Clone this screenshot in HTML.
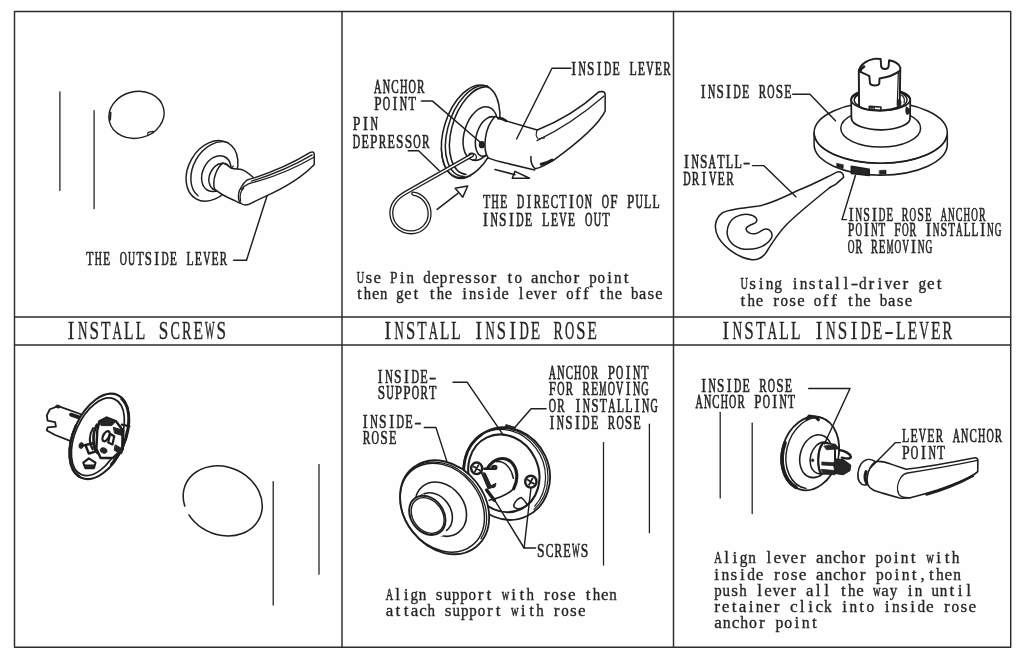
<!DOCTYPE html>
<html><head><meta charset="utf-8"><title>Lever installation</title>
<style>html,body{margin:0;padding:0;background:#fff}body{width:1025px;height:660px;overflow:hidden;font-family:"Liberation Serif",serif}svg{display:block}</style></head><body>
<svg width="1025" height="660" viewBox="0 0 1025 660">
<rect width="1025" height="660" fill="#fefefe"/>
<g fill="none" stroke="#1e1e1e" stroke-linecap="round" stroke-linejoin="round">
<g stroke-width="1.45" stroke="#2b2b2b">
<path d="M14.5 11.5H1010.7V647.2H14.5Z"/>
<path d="M342 11.5V647.2M673.5 11.5V647.2M14.5 317H1010.7M14.5 345H1010.7"/>
</g>
<g transform="translate(40 70) scale(0.24242)" stroke-width="5.79">
<ellipse cx="398" cy="185" rx="115" ry="96" transform="rotate(-14 398 185)"/>
<path d="M444 266L446 257L466 253L469 259" stroke-width="5.03"/>
<path d="M291 176L289 205" stroke-width="8.05"/>
</g>
<g transform="translate(180 130) scale(0.15152)" stroke-width="9.66">
<ellipse cx="211" cy="270" rx="155.6" ry="212.3" transform="rotate(29.6 211 270)" fill="#fefefe"/>
<path d="M118.9 434.3A147 203 29.6 0 1 315.5 83.1"/>
<ellipse cx="240" cy="288" rx="90" ry="124" transform="rotate(26 240 288)"/>
<path d="M259.3 395.3A68 93 26 1 1 329.9 250.5"/>
<path d="M283 219C300 225 320 238 338 252C360 262 390 254 410 262C440 275 460 292 482 312L420 400L396 480C350 462 300 440 262 414C240 400 226 392 228 380C215 330 240 250 283 219Z" stroke-width="0.08" fill="#fefefe" stroke="none"/>
<path d="M283 219C300 225 320 238 338 252C360 262 390 254 410 262C440 275 460 292 482 312"/>
<path d="M228 390C250 408 300 440 352 462C370 470 385 478 398 484"/>
<path d="M283 219C240 250 212 330 228 390"/>
<path d="M338 252C345 248 350 244 352 238" stroke-width="8.05"/>
<path d="M442 330C600 285 750 215 860 148C876 140 886 148 886 162L886 228C800 320 660 395 560 440L450 492C420 500 396 488 388 462C382 425 392 392 408 372C418 352 430 340 442 330Z" fill="#fefefe"/>
<path d="M470 338C620 292 762 228 872 164" stroke-width="8.05"/>
<path d="M404 392C440 352 470 348 520 336C660 296 780 240 884 180" stroke-width="8.05"/>
<path d="M400 470C392 430 404 398 420 384" stroke-width="8.05"/>
</g>
<g transform="translate(435 75) scale(0.18182)" stroke-width="8.39">
<ellipse cx="196" cy="310" rx="146.8" ry="263.4" transform="rotate(17.6 196 310)" fill="#fefefe"/>
<path d="M160.8 557.7A143 258 17.6 1 1 287.2 60.7"/>
<path d="M170.7 547.4A139 250 17.6 0 1 293.3 64.6"/>
<path d="M197 553.6A146.8 263.4 17.6 0 1 35 401.1" stroke-width="6.71"/>
<ellipse cx="250" cy="322" rx="88" ry="152" transform="rotate(17.6 250 322)"/>
<path d="M278.4 444.7A62 112 17.6 1 1 342 244.1"/>
<path d="M330 228C352 240 380 250 400 255L562 302L600 420L548 522L400 487C360 478 320 468 292 456C262 440 262 300 330 228Z" fill="#fefefe" stroke="none"/>
<path d="M330 228C352 240 380 250 400 255L562 302"/>
<path d="M292 456C320 468 360 478 400 487L548 522"/>
<path d="M330 228C270 290 262 410 292 456"/>
<path d="M348 238C362 236 380 244 390 252" stroke-width="14.76"/>
<ellipse cx="258" cy="383" rx="13" ry="16" fill="#262626"/>
<path d="M186 436C196 426 214 428 224 440C234 454 226 468 206 468" stroke-width="6.71"/>
<path d="M330 520L440 548"/>
<path d="M440 530L520 568L425 568Z"/>
</g>
<g transform="translate(345 60) scale(0.27270)" stroke-width="5.37">
<path d="M466 349L222 487C190 505 168 530 170 565C172 605 205 632 242 632C282 632 312 600 310 560C308 525 285 495 250 490" stroke-width="15.21"/>
<path d="M466 349L222 487C190 505 168 530 170 565C172 605 205 632 242 632C282 632 312 600 310 560C308 525 285 495 250 490" stroke-width="5.59" stroke="#fefefe"/>
<path d="M338 548L414 489"/>
<path d="M404 470L450 462L432 503Z"/>
</g>
<g transform="translate(520 80) scale(0.15152)" stroke-width="10.06">
<path d="M114 330C250 275 400 188 520 78L545 76Q562 80 562 97L562 205C520 290 400 400 220 530C170 560 130 580 100 586C80 570 70 540 72 505L114 330Z" fill="#fefefe" stroke="none"/>
<path d="M114 330C250 275 400 188 520 78L545 76Q562 80 562 97L562 205C520 290 400 400 220 530C170 560 130 580 100 586C80 570 70 540 72 505"/>
<path d="M112 400C250 335 400 240 555 106" stroke-width="8.05"/>
<path d="M114 330C104 350 106 372 118 386M126 390C138 384 150 382 162 382" stroke-width="7.25"/>
<path d="M140 556C165 552 190 542 212 528" stroke-width="19.32"/>
</g>
<g transform="translate(0 0) scale(1.00000)" stroke-width="1.52">
<path d="M814.1 132.6V144.6A66.6 30.6 0 0 0 947.3 144.6V132.6Z" fill="#fefefe"/>
<ellipse cx="880.7" cy="132.6" rx="66.6" ry="30.6" fill="#fefefe"/>
<path d="M814.6 136.5A66.6 30.6 0 0 0 946.8 136.5" stroke-width="1.22"/>
<ellipse cx="880.7" cy="128.2" rx="39.9" ry="18.9"/>
<path d="M851.3 166.3L869.2 169.3L869.2 175.4L851.3 173.4Z" fill="#262626"/>
<path d="M837 163.4L843.2 164.8V168.6L837 167Z" stroke-width="0.73" fill="#262626"/>
<path d="M879.6 170.6L886 170.2V174L879.6 174.4Z" stroke-width="0.73" fill="#262626"/>
</g>
<g transform="translate(840 45) scale(0.13637)" stroke-width="11.18">
<path d="M82 400L84 540A215 86 0 0 0 514 532L515 400A217 80 0 0 0 82 400Z" stroke-width="12.97" fill="#fefefe"/>
<ellipse cx="298" cy="400" rx="217" ry="80" stroke-width="12.97"/>
<ellipse cx="298" cy="402" rx="194" ry="78"/>
<path d="M486 455C500 458 512 470 514 486C512 502 500 512 488 508C480 492 480 470 486 455Z" stroke-width="5.37" fill="#262626"/>
<path d="M452 368C470 380 476 400 470 424" stroke-width="8.95"/>
<path d="M108 392C112 380 122 372 134 368" stroke-width="8.95"/>
<path d="M138 190L140 452C200 490 380 490 438 448L442 165C436 140 400 118 360 112L356 160C350 182 306 180 302 158L298 102L260 100C190 110 145 150 138 190Z" stroke-width="14.31" fill="#fefefe"/>
<path d="M140 192C160 205 195 215 215 228L220 282C228 302 282 302 288 282L290 245C330 240 400 220 441 188" stroke-width="14.31"/>
<path d="M424 402C436 398 446 404 448 420C446 446 438 462 424 468Z" stroke-width="5.37" fill="#262626"/>
<path d="M428 200L420 440" stroke-width="8.95"/>
<path d="M148 190C152 176 162 166 176 158" stroke-width="19.68"/>
<path d="M215 450L300 455L300 480L215 475Z" stroke-width="11.63"/>
<path d="M228 458L252 460L252 470L228 468Z" stroke-width="7.16"/>
</g>
<g transform="translate(680 140) scale(0.19704)" stroke-width="7.74">
<path d="M800 162C815 158 832 170 830 190L790 225L762 240C700 290 600 370 540 430C500 470 470 520 450 550C430 590 400 610 365 608C300 600 230 550 195 495C170 450 175 400 215 370C250 350 330 345 400 335C450 325 540 285 600 255C680 225 750 185 800 162Z" fill="#fefefe"/>
<path d="M385 395C370 378 330 370 295 385C255 400 235 440 240 480C248 525 290 555 345 555C400 553 445 530 465 495C472 475 460 455 440 452C420 450 405 470 385 475C360 480 338 468 335 452C335 438 360 430 380 422C392 415 392 405 385 395Z"/>
</g>
<g transform="translate(40 385) scale(0.15152)" stroke-width="10.47">
<path d="M120 140L285 198L215 376L100 330L45 300L50 280L105 275L100 245L50 235L45 200L65 160Z" stroke-width="12.08" fill="#fefefe"/>
<path d="M205 196L272 218" stroke-width="25.77"/>
<ellipse cx="118" cy="142" rx="15" ry="10" transform="rotate(15 118 142)" stroke-width="4.03" fill="#262626"/>
<ellipse cx="392" cy="339" rx="171" ry="298" transform="rotate(23.75 392 339)" stroke-width="13.69" fill="#fefefe"/>
<ellipse cx="382" cy="342" rx="149" ry="272" transform="rotate(23.75 382 342)" stroke-width="11.27"/>
<path d="M538.6 91.5A166 292 23.8 0 1 470.9 523.5" stroke-width="17.71"/>
<path d="M258.8 604.7A171 298 23.8 0 1 235.5 270.1" stroke-width="16.1"/>
<path d="M350 285C322 330 322 385 348 425" stroke-width="13.69"/>
<path d="M376 262C345 318 345 395 378 448" stroke-width="17.71"/>
<path d="M392 240L440 215L500 238L548 300L545 420L480 482L400 482L372 420L378 300Z" stroke-width="16.1" fill="#fefefe"/>
<path d="M388 242L440 213L502 238L474 268L406 268Z" stroke-width="6.44" fill="#262626"/>
<path d="M486 280L547 298L542 334L494 318Z" stroke-width="6.44" fill="#262626"/>
<path d="M498 396L550 425L538 454L492 432Z" stroke-width="6.44" fill="#262626"/>
<path d="M548 300L545 420" stroke-width="19.32"/>
<ellipse cx="436" cy="338" rx="19" ry="36" transform="rotate(28 436 338)" stroke-width="15.3"/>
<path d="M462 322L490 338L478 392L450 380Z" stroke-width="14.49"/>
<ellipse cx="420" cy="432" rx="23" ry="18" transform="rotate(20 420 432)" stroke-width="4.03" fill="#262626"/>
<ellipse cx="272" cy="400" rx="15" ry="20" transform="rotate(10 272 400)" stroke-width="4.03" fill="#262626"/>
<path d="M300 396L352 384L366 440L322 452Z" stroke-width="16.1"/>
<path d="M300 396L275 402" stroke-width="14.49"/>
<path d="M286 512L322 484L366 512L356 548L300 548Z" stroke-width="14.49"/>
<path d="M292 528L360 528L356 548L300 548Z" stroke-width="6.44" fill="#262626"/>
<path d="M540 262L590 272" stroke-width="14.49"/>
</g>
<g transform="translate(160 440) scale(0.27270)" stroke-width="5.59">
<path d="M90.8 242.3A149 124 24.4 1 1 106.1 274.6"/>
</g>
<g transform="translate(455 420) scale(0.16667)" stroke-width="9.52">
<ellipse cx="310" cy="322" rx="255" ry="282" transform="rotate(-25 310 322)" stroke-width="10.98" fill="#fefefe"/>
<path d="M148.9 93.9A249 276 -25 0 1 474.1 536.4" stroke-width="7.32"/>
<path d="M163.2 87.1A242 270 -25 0 1 478.2 517" stroke-width="7.32"/>
<ellipse cx="293" cy="320" rx="208" ry="238" transform="rotate(-25 293 320)" stroke-width="12.44"/>
<path d="M81.6 428.5A252 279 -25 0 1 161.5 86.4" stroke-width="16.1"/>
<path d="M300 40L306 27L362 44L356 60Z" stroke-width="4.39" fill="#262626"/>
<path d="M195 290C225 235 290 212 335 250C372 285 385 350 352 412" stroke-width="19.03"/>
<path d="M250 250C300 245 340 290 350 350" stroke-width="8.78"/>
<path d="M205 482C260 470 320 445 352 412" stroke-width="9.52"/>
<path d="M176 293L244 293C256 280 240 270 224 280" stroke-width="14.64"/>
<path d="M158 318L198 412L240 402L246 380L216 394L182 320Z" stroke-width="5.86" fill="#262626"/>
<path d="M190 420L236 482" stroke-width="20.5"/>
<path d="M352 512C360 490 380 470 398 465C415 480 428 495 432 510C420 525 400 532 375 532C362 530 352 522 352 512Z"/>
<ellipse cx="130" cy="290" rx="33" ry="34.65" stroke-width="14.64" fill="#fefefe"/>
<path d="M111.8 278.4L148.2 301.6M139.9 271.9L120.1 308.1" stroke-width="10.98"/>
<ellipse cx="455" cy="370" rx="34" ry="35.7" stroke-width="14.64" fill="#fefefe"/>
<path d="M436.3 358.1L473.7 381.9M465.2 351.3L444.8 388.7" stroke-width="10.98"/>
</g>
<g transform="translate(390 450) scale(0.16667)" stroke-width="9.52">
<ellipse cx="327.5" cy="343.5" rx="242.4" ry="303.4" transform="rotate(-38.3 327.5 343.5)" stroke-width="10.98" fill="#fefefe"/>
<path d="M96.1 158.3A235 296 -38.3 0 1 545.9 531.7" stroke-width="7.32"/>
<ellipse cx="314" cy="346" rx="228" ry="288" transform="rotate(-38.3 314 346)" stroke-width="8.78"/>
<ellipse cx="305" cy="355" rx="140" ry="175" transform="rotate(-38 305 355)"/>
<ellipse cx="262" cy="378" rx="102" ry="130" transform="rotate(-36 262 378)" fill="#fefefe"/>
<path d="M150 300L200 262L345 500L285 528Z" fill="#fefefe" stroke="none"/>
<ellipse cx="224" cy="392" rx="98" ry="127" transform="rotate(-36 224 392)" stroke-width="11.71" fill="#fefefe"/>
<ellipse cx="226" cy="393" rx="88" ry="116" transform="rotate(-36 226 393)" stroke-width="8.05"/>
</g>
<g transform="translate(775 405) scale(0.13637)" stroke-width="11.63">
<ellipse cx="257.5" cy="355" rx="206" ry="275" transform="rotate(16 257.5 355)" stroke-width="13.42" fill="#fefefe"/>
<path d="M227.5 611.5A198 266 16 1 1 350.6 94.6" stroke-width="10.74"/>
<path d="M154.1 603.7A204 272 16 0 1 73.2 277.2" stroke-width="26.84"/>
<path d="M236 100L250 82L300 90L318 108" stroke-width="23.26"/>
<ellipse cx="300" cy="375" rx="115" ry="160" transform="rotate(16 300 375)"/>
<path d="M357.7 497.9A85 118 16 1 1 414 301.5" stroke-width="11.63"/>
<path d="M352 278L440 290L470 325L455 500L340 505C310 470 305 330 352 278Z" stroke-width="10.74" fill="#fefefe"/>
<path d="M352 278C305 330 310 470 340 505" stroke-width="16.1"/>
<path d="M360 300L440 292L472 322L380 328Z" stroke-width="5.37" fill="#262626"/>
<path d="M345 418L440 424L440 446L345 440Z" stroke-width="5.37" fill="#262626"/>
<path d="M340 472L440 480L440 512L352 506Z" stroke-width="5.37" fill="#262626"/>
<path d="M440 395L500 400L556 440L550 482L500 512L440 502L432 450Z" stroke-width="7.16" fill="#262626"/>
<path d="M470 330C510 335 550 355 556 380C556 396 530 396 490 386" stroke-width="17.89"/>
<path d="M440 330L440 395" stroke-width="14.31"/>
<ellipse cx="276" cy="405" rx="9" ry="11" stroke-width="3.58" fill="#262626"/>
</g>
<g transform="translate(850 445) scale(0.13661)" stroke-width="11.61">
<path d="M182 120C150 98 110 100 80 140C55 180 50 240 70 270C85 292 110 296 128 290L182 120Z" fill="#fefefe"/>
<path d="M118 195C108 220 108 250 120 276" stroke-width="23.22"/>
<path d="M186 122C230 114 260 126 300 140L410 178C560 160 760 124 905 95C925 90 936 100 936 112L935 195C900 228 780 282 640 330C560 355 500 372 440 386C410 390 385 390 362 388L250 356C220 348 190 340 170 330C130 310 118 270 128 225C136 180 156 145 186 122Z" fill="#fefefe"/>
<path d="M440 386C400 388 372 384 358 362C340 330 346 280 372 238C388 215 402 208 422 205C600 176 800 140 934 112" stroke-width="9.82"/>
<path d="M560 362C660 335 800 280 900 226" stroke-width="17.86"/>
</g>
<path d="M59.9 91.8L59.9 190.5" stroke-width="1.25"/>
<path d="M94.1 110.7L94.1 208.7" stroke-width="1.25"/>
<path d="M233.7 260.2L246.5 260.2L267 196" stroke-width="1.45"/>
<path d="M571 68.3L552 68.3L516.6 139" stroke-width="1.45"/>
<path d="M421.4 100.9L432.3 100.9L481.4 143.2" stroke-width="1.45"/>
<path d="M408.3 150.8L418.6 150.8L439.1 170.4" stroke-width="1.45"/>
<path d="M792.7 94.2L809.9 94.2L835.5 120.7" stroke-width="1.45"/>
<path d="M752.5 165.6L763.7 165.6L795.9 196.7" stroke-width="1.45"/>
<path d="M855.4 175.5L842 219.6L846.4 219.6" stroke-width="1.45"/>
<path d="M273.2 481.5L273.2 605" stroke-width="1.25"/>
<path d="M319 464.5L319 574.2" stroke-width="1.25"/>
<path d="M603.5 442.5L603.5 565" stroke-width="1.25"/>
<path d="M649.4 424.2L649.4 532.7" stroke-width="1.25"/>
<path d="M453 382.2L467.1 382.2L503 434.6" stroke-width="1.45"/>
<path d="M424.3 427.4L435.9 427.4L446.8 461.1" stroke-width="1.45"/>
<path d="M546.1 408.7L531.1 408.7L514.8 427.4" stroke-width="1.45"/>
<path d="M535.5 548L524.1 548L494.5 499.8" stroke-width="1.45"/>
<path d="M524.1 548L530.9 488.4" stroke-width="1.45"/>
<path d="M720.2 412.3L720.2 497.9" stroke-width="1.25"/>
<path d="M752.2 423.2L752.2 513.5" stroke-width="1.25"/>
<path d="M808.7 388.5L850 388.5L824.5 443.8" stroke-width="1.45"/>
<path d="M900.5 442.6L895.5 442.6L870.5 467.8" stroke-width="1.45"/>
</g>
<g opacity="0.985" fill="#222" stroke="#222" stroke-width="0.32" text-anchor="middle" font-family="'Liberation Serif', serif">
<g font-size="18.3"><text transform="matrix(0.64 0 0 1 89.93 264.5)" stroke-width="0.65">T</text><text transform="matrix(0.54 0 0 1 98.27 264.5)" stroke-width="0.75">H</text><text transform="matrix(0.64 0 0 1 106.61 264.5)" stroke-width="0.65">E</text><text transform="matrix(0.54 0 0 1 123.29 264.5)" stroke-width="0.75">O</text><text transform="matrix(0.54 0 0 1 131.63 264.5)" stroke-width="0.75">U</text><text transform="matrix(0.64 0 0 1 139.97 264.5)" stroke-width="0.65">T</text><text transform="matrix(0.7 0 0 1 148.31 264.5)" stroke-width="0.6">S</text><text transform="matrix(0.8 0 0 1 156.65 264.5)" stroke-width="0.52">I</text><text transform="matrix(0.54 0 0 1 164.99 264.5)" stroke-width="0.75">D</text><text transform="matrix(0.64 0 0 1 173.33 264.5)" stroke-width="0.65">E</text><text transform="matrix(0.64 0 0 1 190.01 264.5)" stroke-width="0.65">L</text><text transform="matrix(0.64 0 0 1 198.35 264.5)" stroke-width="0.65">E</text><text transform="matrix(0.54 0 0 1 206.69 264.5)" stroke-width="0.75">V</text><text transform="matrix(0.64 0 0 1 215.03 264.5)" stroke-width="0.65">E</text><text transform="matrix(0.59 0 0 1 223.37 264.5)" stroke-width="0.71">R</text></g>
<g font-size="18.3"><text transform="matrix(0.8 0 0 1 573.69 74.7)" stroke-width="0.52">I</text><text transform="matrix(0.55 0 0 1 582.17 74.7)" stroke-width="0.75">N</text><text transform="matrix(0.72 0 0 1 590.64 74.7)" stroke-width="0.59">S</text><text transform="matrix(0.8 0 0 1 599.12 74.7)" stroke-width="0.52">I</text><text transform="matrix(0.55 0 0 1 607.59 74.7)" stroke-width="0.75">D</text><text transform="matrix(0.65 0 0 1 616.07 74.7)" stroke-width="0.64">E</text><text transform="matrix(0.65 0 0 1 633.02 74.7)" stroke-width="0.64">L</text><text transform="matrix(0.65 0 0 1 641.49 74.7)" stroke-width="0.64">E</text><text transform="matrix(0.55 0 0 1 649.97 74.7)" stroke-width="0.75">V</text><text transform="matrix(0.65 0 0 1 658.45 74.7)" stroke-width="0.64">E</text><text transform="matrix(0.6 0 0 1 666.92 74.7)" stroke-width="0.7">R</text></g>
<g font-size="18.3"><text transform="matrix(0.56 0 0 1 377.82 92.5)" stroke-width="0.75">A</text><text transform="matrix(0.56 0 0 1 386.41 92.5)" stroke-width="0.75">N</text><text transform="matrix(0.61 0 0 1 395 92.5)" stroke-width="0.69">C</text><text transform="matrix(0.56 0 0 1 403.6 92.5)" stroke-width="0.75">H</text><text transform="matrix(0.56 0 0 1 412.19 92.5)" stroke-width="0.75">O</text><text transform="matrix(0.61 0 0 1 420.78 92.5)" stroke-width="0.69">R</text></g>
<g font-size="18.3"><text transform="matrix(0.72 0 0 1 377.82 110.1)" stroke-width="0.58">P</text><text transform="matrix(0.56 0 0 1 386.38 110.1)" stroke-width="0.75">O</text><text transform="matrix(0.8 0 0 1 394.95 110.1)" stroke-width="0.52">I</text><text transform="matrix(0.56 0 0 1 403.52 110.1)" stroke-width="0.75">N</text><text transform="matrix(0.66 0 0 1 412.08 110.1)" stroke-width="0.64">T</text></g>
<g font-size="18.3"><text transform="matrix(0.75 0 0 1 356.63 130)" stroke-width="0.56">P</text><text transform="matrix(0.8 0 0 1 365.45 130)" stroke-width="0.52">I</text><text transform="matrix(0.57 0 0 1 374.27 130)" stroke-width="0.73">N</text></g>
<g font-size="18.3"><text transform="matrix(0.56 0 0 1 356.54 147.7)" stroke-width="0.75">D</text><text transform="matrix(0.66 0 0 1 365.18 147.7)" stroke-width="0.63">E</text><text transform="matrix(0.73 0 0 1 373.82 147.7)" stroke-width="0.58">P</text><text transform="matrix(0.61 0 0 1 382.46 147.7)" stroke-width="0.69">R</text><text transform="matrix(0.66 0 0 1 391.1 147.7)" stroke-width="0.63">E</text><text transform="matrix(0.73 0 0 1 399.74 147.7)" stroke-width="0.58">S</text><text transform="matrix(0.73 0 0 1 408.38 147.7)" stroke-width="0.58">S</text><text transform="matrix(0.56 0 0 1 417.02 147.7)" stroke-width="0.75">O</text><text transform="matrix(0.61 0 0 1 425.66 147.7)" stroke-width="0.69">R</text></g>
<g font-size="18.3"><text transform="matrix(0.65 0 0 1 486.58 208.4)" stroke-width="0.64">T</text><text transform="matrix(0.55 0 0 1 495.06 208.4)" stroke-width="0.75">H</text><text transform="matrix(0.65 0 0 1 503.55 208.4)" stroke-width="0.64">E</text><text transform="matrix(0.55 0 0 1 520.51 208.4)" stroke-width="0.75">D</text><text transform="matrix(0.8 0 0 1 528.99 208.4)" stroke-width="0.52">I</text><text transform="matrix(0.6 0 0 1 537.47 208.4)" stroke-width="0.7">R</text><text transform="matrix(0.65 0 0 1 545.95 208.4)" stroke-width="0.64">E</text><text transform="matrix(0.6 0 0 1 554.44 208.4)" stroke-width="0.7">C</text><text transform="matrix(0.65 0 0 1 562.92 208.4)" stroke-width="0.64">T</text><text transform="matrix(0.8 0 0 1 571.4 208.4)" stroke-width="0.52">I</text><text transform="matrix(0.55 0 0 1 579.88 208.4)" stroke-width="0.75">O</text><text transform="matrix(0.55 0 0 1 588.36 208.4)" stroke-width="0.75">N</text><text transform="matrix(0.55 0 0 1 605.33 208.4)" stroke-width="0.75">O</text><text transform="matrix(0.72 0 0 1 613.81 208.4)" stroke-width="0.59">F</text><text transform="matrix(0.72 0 0 1 630.77 208.4)" stroke-width="0.59">P</text><text transform="matrix(0.55 0 0 1 639.25 208.4)" stroke-width="0.75">U</text><text transform="matrix(0.65 0 0 1 647.74 208.4)" stroke-width="0.64">L</text><text transform="matrix(0.65 0 0 1 656.22 208.4)" stroke-width="0.64">L</text></g>
<g font-size="18.3"><text transform="matrix(0.8 0 0 1 485.49 226.2)" stroke-width="0.52">I</text><text transform="matrix(0.56 0 0 1 494.1 226.2)" stroke-width="0.75">N</text><text transform="matrix(0.73 0 0 1 502.7 226.2)" stroke-width="0.58">S</text><text transform="matrix(0.8 0 0 1 511.31 226.2)" stroke-width="0.52">I</text><text transform="matrix(0.56 0 0 1 519.92 226.2)" stroke-width="0.75">D</text><text transform="matrix(0.66 0 0 1 528.52 226.2)" stroke-width="0.63">E</text><text transform="matrix(0.66 0 0 1 545.73 226.2)" stroke-width="0.63">L</text><text transform="matrix(0.66 0 0 1 554.34 226.2)" stroke-width="0.63">E</text><text transform="matrix(0.56 0 0 1 562.94 226.2)" stroke-width="0.75">V</text><text transform="matrix(0.66 0 0 1 571.55 226.2)" stroke-width="0.63">E</text><text transform="matrix(0.56 0 0 1 588.76 226.2)" stroke-width="0.75">O</text><text transform="matrix(0.56 0 0 1 597.36 226.2)" stroke-width="0.75">U</text><text transform="matrix(0.66 0 0 1 605.97 226.2)" stroke-width="0.63">T</text></g>
<g font-size="17.2"><text transform="matrix(0.6 0 0 1 360.56 283.2)" stroke-width="0.53">U</text><text x="368.86" y="283.2">s</text><text transform="matrix(0.98 0 0 1 377.16 283.2)" stroke-width="0.33">e</text><text transform="matrix(0.78 0 0 1 393.76 283.2)" stroke-width="0.41">P</text><text x="402.06" y="283.2">i</text><text transform="matrix(0.87 0 0 1 410.36 283.2)" stroke-width="0.37">n</text><text transform="matrix(0.87 0 0 1 426.96 283.2)" stroke-width="0.37">d</text><text transform="matrix(0.98 0 0 1 435.26 283.2)" stroke-width="0.33">e</text><text transform="matrix(0.87 0 0 1 443.56 283.2)" stroke-width="0.37">p</text><text x="451.86" y="283.2">r</text><text transform="matrix(0.98 0 0 1 460.16 283.2)" stroke-width="0.33">e</text><text x="468.46" y="283.2">s</text><text x="476.76" y="283.2">s</text><text transform="matrix(0.87 0 0 1 485.06 283.2)" stroke-width="0.37">o</text><text x="493.36" y="283.2">r</text><text x="509.95" y="283.2">t</text><text transform="matrix(0.87 0 0 1 518.25 283.2)" stroke-width="0.37">o</text><text transform="matrix(0.98 0 0 1 534.85 283.2)" stroke-width="0.33">a</text><text transform="matrix(0.87 0 0 1 543.15 283.2)" stroke-width="0.37">n</text><text transform="matrix(0.98 0 0 1 551.45 283.2)" stroke-width="0.33">c</text><text transform="matrix(0.87 0 0 1 559.75 283.2)" stroke-width="0.37">h</text><text transform="matrix(0.87 0 0 1 568.05 283.2)" stroke-width="0.37">o</text><text x="576.35" y="283.2">r</text><text transform="matrix(0.87 0 0 1 592.95 283.2)" stroke-width="0.37">p</text><text transform="matrix(0.87 0 0 1 601.25 283.2)" stroke-width="0.37">o</text><text x="609.55" y="283.2">i</text><text transform="matrix(0.87 0 0 1 617.85 283.2)" stroke-width="0.37">n</text><text x="626.15" y="283.2">t</text></g>
<g font-size="17.2"><text x="359.35" y="299.3">t</text><text transform="matrix(0.85 0 0 1 367.44 299.3)" stroke-width="0.38">h</text><text transform="matrix(0.95 0 0 1 375.54 299.3)" stroke-width="0.34">e</text><text transform="matrix(0.85 0 0 1 383.63 299.3)" stroke-width="0.38">n</text><text transform="matrix(0.85 0 0 1 399.82 299.3)" stroke-width="0.38">g</text><text transform="matrix(0.95 0 0 1 407.91 299.3)" stroke-width="0.34">e</text><text x="416.01" y="299.3">t</text><text x="432.19" y="299.3">t</text><text transform="matrix(0.85 0 0 1 440.29 299.3)" stroke-width="0.38">h</text><text transform="matrix(0.95 0 0 1 448.38 299.3)" stroke-width="0.34">e</text><text x="464.57" y="299.3">i</text><text transform="matrix(0.85 0 0 1 472.66 299.3)" stroke-width="0.38">n</text><text x="480.76" y="299.3">s</text><text x="488.85" y="299.3">i</text><text transform="matrix(0.85 0 0 1 496.95 299.3)" stroke-width="0.38">d</text><text transform="matrix(0.95 0 0 1 505.04 299.3)" stroke-width="0.34">e</text><text x="521.23" y="299.3">l</text><text transform="matrix(0.95 0 0 1 529.32 299.3)" stroke-width="0.34">e</text><text transform="matrix(0.85 0 0 1 537.41 299.3)" stroke-width="0.38">v</text><text transform="matrix(0.95 0 0 1 545.51 299.3)" stroke-width="0.34">e</text><text x="553.6" y="299.3">r</text><text transform="matrix(0.85 0 0 1 569.79 299.3)" stroke-width="0.38">o</text><text x="577.88" y="299.3">f</text><text x="585.98" y="299.3">f</text><text x="602.17" y="299.3">t</text><text transform="matrix(0.85 0 0 1 610.26 299.3)" stroke-width="0.38">h</text><text transform="matrix(0.95 0 0 1 618.35 299.3)" stroke-width="0.34">e</text><text transform="matrix(0.85 0 0 1 634.54 299.3)" stroke-width="0.38">b</text><text transform="matrix(0.95 0 0 1 642.63 299.3)" stroke-width="0.34">a</text><text x="650.73" y="299.3">s</text><text transform="matrix(0.95 0 0 1 658.82 299.3)" stroke-width="0.34">e</text></g>
<g font-size="18.3"><text transform="matrix(0.8 0 0 1 703.09 98.4)" stroke-width="0.52">I</text><text transform="matrix(0.55 0 0 1 711.58 98.4)" stroke-width="0.75">N</text><text transform="matrix(0.72 0 0 1 720.06 98.4)" stroke-width="0.59">S</text><text transform="matrix(0.8 0 0 1 728.54 98.4)" stroke-width="0.52">I</text><text transform="matrix(0.55 0 0 1 737.02 98.4)" stroke-width="0.75">D</text><text transform="matrix(0.65 0 0 1 745.51 98.4)" stroke-width="0.64">E</text><text transform="matrix(0.6 0 0 1 762.47 98.4)" stroke-width="0.7">R</text><text transform="matrix(0.55 0 0 1 770.95 98.4)" stroke-width="0.75">O</text><text transform="matrix(0.72 0 0 1 779.43 98.4)" stroke-width="0.59">S</text><text transform="matrix(0.65 0 0 1 787.92 98.4)" stroke-width="0.64">E</text></g>
<g font-size="18.3"><text transform="matrix(0.8 0 0 1 686.49 167.9)" stroke-width="0.52">I</text><text transform="matrix(0.56 0 0 1 695.1 167.9)" stroke-width="0.75">N</text><text transform="matrix(0.73 0 0 1 703.71 167.9)" stroke-width="0.58">S</text><text transform="matrix(0.56 0 0 1 712.31 167.9)" stroke-width="0.75">A</text><text transform="matrix(0.66 0 0 1 720.92 167.9)" stroke-width="0.63">T</text><text transform="matrix(0.66 0 0 1 729.52 167.9)" stroke-width="0.63">L</text><text transform="matrix(0.66 0 0 1 738.13 167.9)" stroke-width="0.63">L</text><text transform="matrix(1.19 0 0 1 746.74 167.9)" stroke-width="0.35">-</text></g>
<g font-size="18.3"><text transform="matrix(0.56 0 0 1 686.83 184.8)" stroke-width="0.75">D</text><text transform="matrix(0.61 0 0 1 695.44 184.8)" stroke-width="0.69">R</text><text transform="matrix(0.8 0 0 1 704.05 184.8)" stroke-width="0.52">I</text><text transform="matrix(0.56 0 0 1 712.65 184.8)" stroke-width="0.75">V</text><text transform="matrix(0.66 0 0 1 721.26 184.8)" stroke-width="0.63">E</text><text transform="matrix(0.61 0 0 1 729.87 184.8)" stroke-width="0.69">R</text></g>
<g font-size="18.3"><text transform="matrix(0.8 0 0 1 851.19 220.5)" stroke-width="0.52">I</text><text transform="matrix(0.5 0 0 1 858.9 220.5)" stroke-width="0.75">N</text><text transform="matrix(0.65 0 0 1 866.61 220.5)" stroke-width="0.64">S</text><text transform="matrix(0.8 0 0 1 874.32 220.5)" stroke-width="0.52">I</text><text transform="matrix(0.5 0 0 1 882.02 220.5)" stroke-width="0.75">D</text><text transform="matrix(0.59 0 0 1 889.73 220.5)" stroke-width="0.71">E</text><text transform="matrix(0.54 0 0 1 905.14 220.5)" stroke-width="0.75">R</text><text transform="matrix(0.5 0 0 1 912.85 220.5)" stroke-width="0.75">O</text><text transform="matrix(0.65 0 0 1 920.56 220.5)" stroke-width="0.64">S</text><text transform="matrix(0.59 0 0 1 928.27 220.5)" stroke-width="0.71">E</text><text transform="matrix(0.5 0 0 1 943.68 220.5)" stroke-width="0.75">A</text><text transform="matrix(0.5 0 0 1 951.39 220.5)" stroke-width="0.75">N</text><text transform="matrix(0.54 0 0 1 959.1 220.5)" stroke-width="0.75">C</text><text transform="matrix(0.5 0 0 1 966.8 220.5)" stroke-width="0.75">H</text><text transform="matrix(0.5 0 0 1 974.51 220.5)" stroke-width="0.75">O</text><text transform="matrix(0.54 0 0 1 982.22 220.5)" stroke-width="0.75">R</text></g>
<g font-size="18.3"><text transform="matrix(0.65 0 0 1 851 236.1)" stroke-width="0.64">P</text><text transform="matrix(0.5 0 0 1 858.74 236.1)" stroke-width="0.75">O</text><text transform="matrix(0.8 0 0 1 866.48 236.1)" stroke-width="0.52">I</text><text transform="matrix(0.5 0 0 1 874.22 236.1)" stroke-width="0.75">N</text><text transform="matrix(0.6 0 0 1 881.97 236.1)" stroke-width="0.71">T</text><text transform="matrix(0.65 0 0 1 897.45 236.1)" stroke-width="0.64">F</text><text transform="matrix(0.5 0 0 1 905.19 236.1)" stroke-width="0.75">O</text><text transform="matrix(0.55 0 0 1 912.94 236.1)" stroke-width="0.75">R</text><text transform="matrix(0.8 0 0 1 928.42 236.1)" stroke-width="0.52">I</text><text transform="matrix(0.5 0 0 1 936.16 236.1)" stroke-width="0.75">N</text><text transform="matrix(0.65 0 0 1 943.91 236.1)" stroke-width="0.64">S</text><text transform="matrix(0.6 0 0 1 951.65 236.1)" stroke-width="0.71">T</text><text transform="matrix(0.5 0 0 1 959.39 236.1)" stroke-width="0.75">A</text><text transform="matrix(0.6 0 0 1 967.13 236.1)" stroke-width="0.71">L</text><text transform="matrix(0.6 0 0 1 974.88 236.1)" stroke-width="0.71">L</text><text transform="matrix(0.8 0 0 1 982.62 236.1)" stroke-width="0.52">I</text><text transform="matrix(0.5 0 0 1 990.36 236.1)" stroke-width="0.75">N</text><text transform="matrix(0.5 0 0 1 998.1 236.1)" stroke-width="0.75">G</text></g>
<g font-size="18.3"><text transform="matrix(0.51 0 0 1 851.02 252.6)" stroke-width="0.75">O</text><text transform="matrix(0.55 0 0 1 858.81 252.6)" stroke-width="0.75">R</text><text transform="matrix(0.55 0 0 1 874.41 252.6)" stroke-width="0.75">R</text><text transform="matrix(0.6 0 0 1 882.2 252.6)" stroke-width="0.7">E</text><text transform="matrix(0.41 0 0 1 890 252.6)" stroke-width="0.75">M</text><text transform="matrix(0.51 0 0 1 897.8 252.6)" stroke-width="0.75">O</text><text transform="matrix(0.51 0 0 1 905.59 252.6)" stroke-width="0.75">V</text><text transform="matrix(0.8 0 0 1 913.39 252.6)" stroke-width="0.52">I</text><text transform="matrix(0.51 0 0 1 921.19 252.6)" stroke-width="0.75">N</text><text transform="matrix(0.51 0 0 1 928.98 252.6)" stroke-width="0.75">G</text></g>
<g font-size="17.2"><text transform="matrix(0.61 0 0 1 744.23 288.9)" stroke-width="0.52">U</text><text x="752.71" y="288.9">s</text><text x="761.19" y="288.9">i</text><text transform="matrix(0.89 0 0 1 769.67 288.9)" stroke-width="0.36">n</text><text transform="matrix(0.89 0 0 1 778.15 288.9)" stroke-width="0.36">g</text><text x="795.11" y="288.9">i</text><text transform="matrix(0.89 0 0 1 803.59 288.9)" stroke-width="0.36">n</text><text x="812.07" y="288.9">s</text><text x="820.54" y="288.9">t</text><text x="829.02" y="288.9">a</text><text x="837.5" y="288.9">l</text><text x="845.98" y="288.9">l</text><text transform="matrix(1.31 0 0 1 854.46 288.9)" stroke-width="0.25">-</text><text transform="matrix(0.89 0 0 1 862.94 288.9)" stroke-width="0.36">d</text><text x="871.42" y="288.9">r</text><text x="879.9" y="288.9">i</text><text transform="matrix(0.89 0 0 1 888.38 288.9)" stroke-width="0.36">v</text><text x="896.85" y="288.9">e</text><text x="905.33" y="288.9">r</text><text transform="matrix(0.89 0 0 1 922.29 288.9)" stroke-width="0.36">g</text><text x="930.77" y="288.9">e</text><text x="939.25" y="288.9">t</text></g>
<g font-size="17.2"><text x="742.95" y="305.8">t</text><text transform="matrix(0.87 0 0 1 751.22 305.8)" stroke-width="0.37">h</text><text transform="matrix(0.97 0 0 1 759.49 305.8)" stroke-width="0.33">e</text><text x="776.03" y="305.8">r</text><text transform="matrix(0.87 0 0 1 784.3 305.8)" stroke-width="0.37">o</text><text x="792.57" y="305.8">s</text><text transform="matrix(0.97 0 0 1 800.84 305.8)" stroke-width="0.33">e</text><text transform="matrix(0.87 0 0 1 817.38 305.8)" stroke-width="0.37">o</text><text x="825.65" y="305.8">f</text><text x="833.92" y="305.8">f</text><text x="850.46" y="305.8">t</text><text transform="matrix(0.87 0 0 1 858.73 305.8)" stroke-width="0.37">h</text><text transform="matrix(0.97 0 0 1 867 305.8)" stroke-width="0.33">e</text><text transform="matrix(0.87 0 0 1 883.54 305.8)" stroke-width="0.37">b</text><text transform="matrix(0.97 0 0 1 891.81 305.8)" stroke-width="0.33">a</text><text x="900.08" y="305.8">s</text><text transform="matrix(0.97 0 0 1 908.35 305.8)" stroke-width="0.33">e</text></g>
<g font-size="25.2"><text transform="matrix(0.78 0 0 1 71.05 339.2)" stroke-width="0.28">I</text><text transform="matrix(0.52 0 0 1 82.61 339.2)" stroke-width="0.42">N</text><text transform="matrix(0.68 0 0 1 94.17 339.2)" stroke-width="0.33">S</text><text transform="matrix(0.62 0 0 1 105.73 339.2)" stroke-width="0.36">T</text><text transform="matrix(0.52 0 0 1 117.29 339.2)" stroke-width="0.42">A</text><text transform="matrix(0.62 0 0 1 128.85 339.2)" stroke-width="0.36">L</text><text transform="matrix(0.62 0 0 1 140.41 339.2)" stroke-width="0.36">L</text><text transform="matrix(0.68 0 0 1 163.53 339.2)" stroke-width="0.33">S</text><text transform="matrix(0.56 0 0 1 175.09 339.2)" stroke-width="0.39">C</text><text transform="matrix(0.56 0 0 1 186.65 339.2)" stroke-width="0.39">R</text><text transform="matrix(0.62 0 0 1 198.21 339.2)" stroke-width="0.36">E</text><text transform="matrix(0.4 0 0 1 209.77 339.2)" stroke-width="0.55">W</text><text transform="matrix(0.68 0 0 1 221.33 339.2)" stroke-width="0.33">S</text></g>
<g font-size="25.2"><text transform="matrix(0.78 0 0 1 387.85 339.2)" stroke-width="0.28">I</text><text transform="matrix(0.51 0 0 1 399.2 339.2)" stroke-width="0.43">N</text><text transform="matrix(0.66 0 0 1 410.56 339.2)" stroke-width="0.33">S</text><text transform="matrix(0.61 0 0 1 421.92 339.2)" stroke-width="0.36">T</text><text transform="matrix(0.51 0 0 1 433.28 339.2)" stroke-width="0.43">A</text><text transform="matrix(0.61 0 0 1 444.64 339.2)" stroke-width="0.36">L</text><text transform="matrix(0.61 0 0 1 456 339.2)" stroke-width="0.36">L</text><text transform="matrix(0.78 0 0 1 478.72 339.2)" stroke-width="0.28">I</text><text transform="matrix(0.51 0 0 1 490.08 339.2)" stroke-width="0.43">N</text><text transform="matrix(0.66 0 0 1 501.44 339.2)" stroke-width="0.33">S</text><text transform="matrix(0.78 0 0 1 512.8 339.2)" stroke-width="0.28">I</text><text transform="matrix(0.51 0 0 1 524.15 339.2)" stroke-width="0.43">D</text><text transform="matrix(0.61 0 0 1 535.51 339.2)" stroke-width="0.36">E</text><text transform="matrix(0.55 0 0 1 558.23 339.2)" stroke-width="0.4">R</text><text transform="matrix(0.51 0 0 1 569.59 339.2)" stroke-width="0.43">O</text><text transform="matrix(0.66 0 0 1 580.95 339.2)" stroke-width="0.33">S</text><text transform="matrix(0.61 0 0 1 592.31 339.2)" stroke-width="0.36">E</text></g>
<g font-size="25.2"><text transform="matrix(0.78 0 0 1 725.75 339.2)" stroke-width="0.28">I</text><text transform="matrix(0.53 0 0 1 737.41 339.2)" stroke-width="0.42">N</text><text transform="matrix(0.68 0 0 1 749.08 339.2)" stroke-width="0.32">S</text><text transform="matrix(0.62 0 0 1 760.74 339.2)" stroke-width="0.35">T</text><text transform="matrix(0.53 0 0 1 772.41 339.2)" stroke-width="0.42">A</text><text transform="matrix(0.62 0 0 1 784.07 339.2)" stroke-width="0.35">L</text><text transform="matrix(0.62 0 0 1 795.74 339.2)" stroke-width="0.35">L</text><text transform="matrix(0.78 0 0 1 819.07 339.2)" stroke-width="0.28">I</text><text transform="matrix(0.53 0 0 1 830.74 339.2)" stroke-width="0.42">N</text><text transform="matrix(0.68 0 0 1 842.4 339.2)" stroke-width="0.32">S</text><text transform="matrix(0.78 0 0 1 854.07 339.2)" stroke-width="0.28">I</text><text transform="matrix(0.53 0 0 1 865.73 339.2)" stroke-width="0.42">D</text><text transform="matrix(0.62 0 0 1 877.4 339.2)" stroke-width="0.35">E</text><text transform="matrix(1.12 0 0 1 889.07 339.2)" stroke-width="0.2">-</text><text transform="matrix(0.62 0 0 1 900.73 339.2)" stroke-width="0.35">L</text><text transform="matrix(0.62 0 0 1 912.4 339.2)" stroke-width="0.35">E</text><text transform="matrix(0.53 0 0 1 924.06 339.2)" stroke-width="0.42">V</text><text transform="matrix(0.62 0 0 1 935.73 339.2)" stroke-width="0.35">E</text><text transform="matrix(0.57 0 0 1 947.4 339.2)" stroke-width="0.39">R</text></g>
<g font-size="18.3"><text transform="matrix(0.8 0 0 1 380.29 382.8)" stroke-width="0.52">I</text><text transform="matrix(0.57 0 0 1 389.01 382.8)" stroke-width="0.74">N</text><text transform="matrix(0.74 0 0 1 397.73 382.8)" stroke-width="0.57">S</text><text transform="matrix(0.8 0 0 1 406.44 382.8)" stroke-width="0.52">I</text><text transform="matrix(0.57 0 0 1 415.16 382.8)" stroke-width="0.74">D</text><text transform="matrix(0.67 0 0 1 423.88 382.8)" stroke-width="0.63">E</text><text transform="matrix(1.21 0 0 1 432.59 382.8)" stroke-width="0.35">-</text></g>
<g font-size="18.3"><text transform="matrix(0.72 0 0 1 381.4 399)" stroke-width="0.58">S</text><text transform="matrix(0.56 0 0 1 389.93 399)" stroke-width="0.75">U</text><text transform="matrix(0.72 0 0 1 398.47 399)" stroke-width="0.58">P</text><text transform="matrix(0.72 0 0 1 407 399)" stroke-width="0.58">P</text><text transform="matrix(0.56 0 0 1 415.53 399)" stroke-width="0.75">O</text><text transform="matrix(0.6 0 0 1 424.07 399)" stroke-width="0.7">R</text><text transform="matrix(0.66 0 0 1 432.6 399)" stroke-width="0.64">T</text></g>
<g font-size="18.3"><text transform="matrix(0.8 0 0 1 365.29 427.7)" stroke-width="0.52">I</text><text transform="matrix(0.57 0 0 1 374.06 427.7)" stroke-width="0.74">N</text><text transform="matrix(0.74 0 0 1 382.82 427.7)" stroke-width="0.57">S</text><text transform="matrix(0.8 0 0 1 391.59 427.7)" stroke-width="0.52">I</text><text transform="matrix(0.57 0 0 1 400.35 427.7)" stroke-width="0.74">D</text><text transform="matrix(0.67 0 0 1 409.11 427.7)" stroke-width="0.62">E</text><text transform="matrix(1.21 0 0 1 417.88 427.7)" stroke-width="0.35">-</text></g>
<g font-size="18.3"><text transform="matrix(0.62 0 0 1 366.5 444)" stroke-width="0.68">R</text><text transform="matrix(0.57 0 0 1 375.27 444)" stroke-width="0.74">O</text><text transform="matrix(0.74 0 0 1 384.03 444)" stroke-width="0.57">S</text><text transform="matrix(0.67 0 0 1 392.8 444)" stroke-width="0.62">E</text></g>
<g font-size="18.3"><text transform="matrix(0.55 0 0 1 552.45 379.3)" stroke-width="0.75">A</text><text transform="matrix(0.55 0 0 1 560.86 379.3)" stroke-width="0.75">N</text><text transform="matrix(0.59 0 0 1 569.27 379.3)" stroke-width="0.71">C</text><text transform="matrix(0.55 0 0 1 577.68 379.3)" stroke-width="0.75">H</text><text transform="matrix(0.55 0 0 1 586.09 379.3)" stroke-width="0.75">O</text><text transform="matrix(0.59 0 0 1 594.5 379.3)" stroke-width="0.71">R</text><text transform="matrix(0.71 0 0 1 611.31 379.3)" stroke-width="0.59">P</text><text transform="matrix(0.55 0 0 1 619.72 379.3)" stroke-width="0.75">O</text><text transform="matrix(0.8 0 0 1 628.13 379.3)" stroke-width="0.52">I</text><text transform="matrix(0.55 0 0 1 636.54 379.3)" stroke-width="0.75">N</text><text transform="matrix(0.65 0 0 1 644.95 379.3)" stroke-width="0.65">T</text></g>
<g font-size="18.3"><text transform="matrix(0.71 0 0 1 552.45 395.3)" stroke-width="0.59">F</text><text transform="matrix(0.55 0 0 1 560.86 395.3)" stroke-width="0.75">O</text><text transform="matrix(0.59 0 0 1 569.27 395.3)" stroke-width="0.71">R</text><text transform="matrix(0.59 0 0 1 586.09 395.3)" stroke-width="0.71">R</text><text transform="matrix(0.65 0 0 1 594.5 395.3)" stroke-width="0.65">E</text><text transform="matrix(0.44 0 0 1 602.9 395.3)" stroke-width="0.75">M</text><text transform="matrix(0.55 0 0 1 611.31 395.3)" stroke-width="0.75">O</text><text transform="matrix(0.55 0 0 1 619.72 395.3)" stroke-width="0.75">V</text><text transform="matrix(0.8 0 0 1 628.13 395.3)" stroke-width="0.52">I</text><text transform="matrix(0.55 0 0 1 636.54 395.3)" stroke-width="0.75">N</text><text transform="matrix(0.55 0 0 1 644.95 395.3)" stroke-width="0.75">G</text></g>
<g font-size="18.3"><text transform="matrix(0.55 0 0 1 552.48 412.1)" stroke-width="0.75">O</text><text transform="matrix(0.6 0 0 1 560.96 412.1)" stroke-width="0.7">R</text><text transform="matrix(0.8 0 0 1 577.92 412.1)" stroke-width="0.52">I</text><text transform="matrix(0.55 0 0 1 586.39 412.1)" stroke-width="0.75">N</text><text transform="matrix(0.72 0 0 1 594.87 412.1)" stroke-width="0.59">S</text><text transform="matrix(0.65 0 0 1 603.35 412.1)" stroke-width="0.64">T</text><text transform="matrix(0.55 0 0 1 611.83 412.1)" stroke-width="0.75">A</text><text transform="matrix(0.65 0 0 1 620.31 412.1)" stroke-width="0.64">L</text><text transform="matrix(0.65 0 0 1 628.78 412.1)" stroke-width="0.64">L</text><text transform="matrix(0.8 0 0 1 637.26 412.1)" stroke-width="0.52">I</text><text transform="matrix(0.55 0 0 1 645.74 412.1)" stroke-width="0.75">N</text><text transform="matrix(0.55 0 0 1 654.22 412.1)" stroke-width="0.75">G</text></g>
<g font-size="18.3"><text transform="matrix(0.8 0 0 1 551.99 428.7)" stroke-width="0.52">I</text><text transform="matrix(0.55 0 0 1 560.5 428.7)" stroke-width="0.75">N</text><text transform="matrix(0.72 0 0 1 569 428.7)" stroke-width="0.58">S</text><text transform="matrix(0.8 0 0 1 577.5 428.7)" stroke-width="0.52">I</text><text transform="matrix(0.55 0 0 1 586 428.7)" stroke-width="0.75">D</text><text transform="matrix(0.65 0 0 1 594.5 428.7)" stroke-width="0.64">E</text><text transform="matrix(0.6 0 0 1 611.51 428.7)" stroke-width="0.7">R</text><text transform="matrix(0.55 0 0 1 620.01 428.7)" stroke-width="0.75">O</text><text transform="matrix(0.72 0 0 1 628.51 428.7)" stroke-width="0.58">S</text><text transform="matrix(0.65 0 0 1 637.01 428.7)" stroke-width="0.64">E</text></g>
<g font-size="18.3"><text transform="matrix(0.74 0 0 1 540.79 556.6)" stroke-width="0.57">S</text><text transform="matrix(0.62 0 0 1 549.56 556.6)" stroke-width="0.68">C</text><text transform="matrix(0.62 0 0 1 558.32 556.6)" stroke-width="0.68">R</text><text transform="matrix(0.67 0 0 1 567.08 556.6)" stroke-width="0.62">E</text><text transform="matrix(0.44 0 0 1 575.84 556.6)" stroke-width="0.75">W</text><text transform="matrix(0.74 0 0 1 584.61 556.6)" stroke-width="0.57">S</text></g>
<g font-size="17.2"><text transform="matrix(0.6 0 0 1 389.45 599.7)" stroke-width="0.53">A</text><text x="397.74" y="599.7">l</text><text x="406.02" y="599.7">i</text><text transform="matrix(0.87 0 0 1 414.3 599.7)" stroke-width="0.37">g</text><text transform="matrix(0.87 0 0 1 422.58 599.7)" stroke-width="0.37">n</text><text x="439.14" y="599.7">s</text><text transform="matrix(0.87 0 0 1 447.42 599.7)" stroke-width="0.37">u</text><text transform="matrix(0.87 0 0 1 455.7 599.7)" stroke-width="0.37">p</text><text transform="matrix(0.87 0 0 1 463.98 599.7)" stroke-width="0.37">p</text><text transform="matrix(0.87 0 0 1 472.27 599.7)" stroke-width="0.37">o</text><text x="480.55" y="599.7">r</text><text x="488.83" y="599.7">t</text><text transform="matrix(0.6 0 0 1 505.39 599.7)" stroke-width="0.53">w</text><text x="513.67" y="599.7">i</text><text x="521.95" y="599.7">t</text><text transform="matrix(0.87 0 0 1 530.23 599.7)" stroke-width="0.37">h</text><text x="546.8" y="599.7">r</text><text transform="matrix(0.87 0 0 1 555.08 599.7)" stroke-width="0.37">o</text><text x="563.36" y="599.7">s</text><text transform="matrix(0.98 0 0 1 571.64 599.7)" stroke-width="0.33">e</text><text x="588.2" y="599.7">t</text><text transform="matrix(0.87 0 0 1 596.48 599.7)" stroke-width="0.37">h</text><text transform="matrix(0.98 0 0 1 604.76 599.7)" stroke-width="0.33">e</text><text transform="matrix(0.87 0 0 1 613.05 599.7)" stroke-width="0.37">n</text></g>
<g font-size="17.2"><text transform="matrix(0.99 0 0 1 389.48 616.3)" stroke-width="0.32">a</text><text x="397.84" y="616.3">t</text><text x="406.2" y="616.3">t</text><text transform="matrix(0.99 0 0 1 414.56 616.3)" stroke-width="0.32">a</text><text transform="matrix(0.99 0 0 1 422.92 616.3)" stroke-width="0.32">c</text><text transform="matrix(0.87 0 0 1 431.27 616.3)" stroke-width="0.37">h</text><text x="447.99" y="616.3">s</text><text transform="matrix(0.87 0 0 1 456.35 616.3)" stroke-width="0.37">u</text><text transform="matrix(0.87 0 0 1 464.71 616.3)" stroke-width="0.37">p</text><text transform="matrix(0.87 0 0 1 473.06 616.3)" stroke-width="0.37">p</text><text transform="matrix(0.87 0 0 1 481.42 616.3)" stroke-width="0.37">o</text><text x="489.78" y="616.3">r</text><text x="498.14" y="616.3">t</text><text transform="matrix(0.61 0 0 1 514.85 616.3)" stroke-width="0.53">w</text><text x="523.21" y="616.3">i</text><text x="531.57" y="616.3">t</text><text transform="matrix(0.87 0 0 1 539.93 616.3)" stroke-width="0.37">h</text><text x="556.64" y="616.3">r</text><text transform="matrix(0.87 0 0 1 565 616.3)" stroke-width="0.37">o</text><text x="573.36" y="616.3">s</text><text transform="matrix(0.99 0 0 1 581.72 616.3)" stroke-width="0.32">e</text></g>
<g font-size="18.3"><text transform="matrix(0.8 0 0 1 703.69 391.5)" stroke-width="0.52">I</text><text transform="matrix(0.55 0 0 1 712.17 391.5)" stroke-width="0.75">N</text><text transform="matrix(0.72 0 0 1 720.64 391.5)" stroke-width="0.59">S</text><text transform="matrix(0.8 0 0 1 729.11 391.5)" stroke-width="0.52">I</text><text transform="matrix(0.55 0 0 1 737.58 391.5)" stroke-width="0.75">D</text><text transform="matrix(0.65 0 0 1 746.06 391.5)" stroke-width="0.64">E</text><text transform="matrix(0.6 0 0 1 763 391.5)" stroke-width="0.7">R</text><text transform="matrix(0.55 0 0 1 771.48 391.5)" stroke-width="0.75">O</text><text transform="matrix(0.72 0 0 1 779.95 391.5)" stroke-width="0.59">S</text><text transform="matrix(0.65 0 0 1 788.42 391.5)" stroke-width="0.64">E</text></g>
<g font-size="18.3"><text transform="matrix(0.55 0 0 1 699.15 408.2)" stroke-width="0.75">A</text><text transform="matrix(0.55 0 0 1 707.54 408.2)" stroke-width="0.75">N</text><text transform="matrix(0.59 0 0 1 715.93 408.2)" stroke-width="0.71">C</text><text transform="matrix(0.55 0 0 1 724.32 408.2)" stroke-width="0.75">H</text><text transform="matrix(0.55 0 0 1 732.71 408.2)" stroke-width="0.75">O</text><text transform="matrix(0.59 0 0 1 741.1 408.2)" stroke-width="0.71">R</text><text transform="matrix(0.71 0 0 1 757.89 408.2)" stroke-width="0.59">P</text><text transform="matrix(0.55 0 0 1 766.28 408.2)" stroke-width="0.75">O</text><text transform="matrix(0.8 0 0 1 774.67 408.2)" stroke-width="0.52">I</text><text transform="matrix(0.55 0 0 1 783.06 408.2)" stroke-width="0.75">N</text><text transform="matrix(0.65 0 0 1 791.45 408.2)" stroke-width="0.65">T</text></g>
<g font-size="18.3"><text transform="matrix(0.65 0 0 1 905.57 442.4)" stroke-width="0.65">L</text><text transform="matrix(0.65 0 0 1 914.02 442.4)" stroke-width="0.65">E</text><text transform="matrix(0.55 0 0 1 922.47 442.4)" stroke-width="0.75">V</text><text transform="matrix(0.65 0 0 1 930.92 442.4)" stroke-width="0.65">E</text><text transform="matrix(0.6 0 0 1 939.37 442.4)" stroke-width="0.71">R</text><text transform="matrix(0.55 0 0 1 956.28 442.4)" stroke-width="0.75">A</text><text transform="matrix(0.55 0 0 1 964.73 442.4)" stroke-width="0.75">N</text><text transform="matrix(0.6 0 0 1 973.18 442.4)" stroke-width="0.71">C</text><text transform="matrix(0.55 0 0 1 981.63 442.4)" stroke-width="0.75">H</text><text transform="matrix(0.55 0 0 1 990.08 442.4)" stroke-width="0.75">O</text><text transform="matrix(0.6 0 0 1 998.53 442.4)" stroke-width="0.71">R</text></g>
<g font-size="18.3"><text transform="matrix(0.75 0 0 1 905.71 458.8)" stroke-width="0.56">P</text><text transform="matrix(0.57 0 0 1 914.53 458.8)" stroke-width="0.73">O</text><text transform="matrix(0.8 0 0 1 923.35 458.8)" stroke-width="0.52">I</text><text transform="matrix(0.57 0 0 1 932.17 458.8)" stroke-width="0.73">N</text><text transform="matrix(0.68 0 0 1 940.99 458.8)" stroke-width="0.62">T</text></g>
<g font-size="17.2"><text transform="matrix(0.61 0 0 1 718.04 562.8)" stroke-width="0.52">A</text><text x="726.52" y="562.8">l</text><text x="735" y="562.8">i</text><text transform="matrix(0.89 0 0 1 743.49 562.8)" stroke-width="0.36">g</text><text transform="matrix(0.89 0 0 1 751.97 562.8)" stroke-width="0.36">n</text><text x="768.93" y="562.8">l</text><text x="777.42" y="562.8">e</text><text transform="matrix(0.89 0 0 1 785.9 562.8)" stroke-width="0.36">v</text><text x="794.38" y="562.8">e</text><text x="802.87" y="562.8">r</text><text x="819.83" y="562.8">a</text><text transform="matrix(0.89 0 0 1 828.32 562.8)" stroke-width="0.36">n</text><text x="836.8" y="562.8">c</text><text transform="matrix(0.89 0 0 1 845.28 562.8)" stroke-width="0.36">h</text><text transform="matrix(0.89 0 0 1 853.77 562.8)" stroke-width="0.36">o</text><text x="862.25" y="562.8">r</text><text transform="matrix(0.89 0 0 1 879.22 562.8)" stroke-width="0.36">p</text><text transform="matrix(0.89 0 0 1 887.7 562.8)" stroke-width="0.36">o</text><text x="896.18" y="562.8">i</text><text transform="matrix(0.89 0 0 1 904.67 562.8)" stroke-width="0.36">n</text><text x="913.15" y="562.8">t</text><text transform="matrix(0.61 0 0 1 930.11 562.8)" stroke-width="0.52">w</text><text x="938.6" y="562.8">i</text><text x="947.08" y="562.8">t</text><text transform="matrix(0.89 0 0 1 955.56 562.8)" stroke-width="0.36">h</text></g>
<g font-size="17.2"><text x="716.75" y="579.5">i</text><text transform="matrix(0.9 0 0 1 725.33 579.5)" stroke-width="0.36">n</text><text x="733.91" y="579.5">s</text><text x="742.49" y="579.5">i</text><text transform="matrix(0.9 0 0 1 751.08 579.5)" stroke-width="0.36">d</text><text x="759.66" y="579.5">e</text><text x="776.82" y="579.5">r</text><text transform="matrix(0.9 0 0 1 785.4 579.5)" stroke-width="0.36">o</text><text x="793.98" y="579.5">s</text><text x="802.56" y="579.5">e</text><text x="819.73" y="579.5">a</text><text transform="matrix(0.9 0 0 1 828.31 579.5)" stroke-width="0.36">n</text><text x="836.89" y="579.5">c</text><text transform="matrix(0.9 0 0 1 845.47 579.5)" stroke-width="0.36">h</text><text transform="matrix(0.9 0 0 1 854.05 579.5)" stroke-width="0.36">o</text><text x="862.63" y="579.5">r</text><text transform="matrix(0.9 0 0 1 879.79 579.5)" stroke-width="0.36">p</text><text transform="matrix(0.9 0 0 1 888.37 579.5)" stroke-width="0.36">o</text><text x="896.96" y="579.5">i</text><text transform="matrix(0.9 0 0 1 905.54 579.5)" stroke-width="0.36">n</text><text x="914.12" y="579.5">t</text><text x="922.7" y="579.5">,</text><text x="931.28" y="579.5">t</text><text transform="matrix(0.9 0 0 1 939.86 579.5)" stroke-width="0.36">h</text><text x="948.44" y="579.5">e</text><text transform="matrix(0.9 0 0 1 957.02 579.5)" stroke-width="0.36">n</text></g>
<g font-size="17.2"><text transform="matrix(0.87 0 0 1 717.98 595.6)" stroke-width="0.37">p</text><text transform="matrix(0.87 0 0 1 726.33 595.6)" stroke-width="0.37">u</text><text x="734.69" y="595.6">s</text><text transform="matrix(0.87 0 0 1 743.04 595.6)" stroke-width="0.37">h</text><text x="759.74" y="595.6">l</text><text transform="matrix(0.98 0 0 1 768.1 595.6)" stroke-width="0.32">e</text><text transform="matrix(0.87 0 0 1 776.45 595.6)" stroke-width="0.37">v</text><text transform="matrix(0.98 0 0 1 784.8 595.6)" stroke-width="0.32">e</text><text x="793.15" y="595.6">r</text><text transform="matrix(0.98 0 0 1 809.86 595.6)" stroke-width="0.32">a</text><text x="818.21" y="595.6">l</text><text x="826.56" y="595.6">l</text><text x="843.27" y="595.6">t</text><text transform="matrix(0.87 0 0 1 851.62 595.6)" stroke-width="0.37">h</text><text transform="matrix(0.98 0 0 1 859.97 595.6)" stroke-width="0.32">e</text><text transform="matrix(0.61 0 0 1 876.68 595.6)" stroke-width="0.53">w</text><text transform="matrix(0.98 0 0 1 885.03 595.6)" stroke-width="0.32">a</text><text transform="matrix(0.87 0 0 1 893.38 595.6)" stroke-width="0.37">y</text><text x="910.08" y="595.6">i</text><text transform="matrix(0.87 0 0 1 918.44 595.6)" stroke-width="0.37">n</text><text transform="matrix(0.87 0 0 1 935.14 595.6)" stroke-width="0.37">u</text><text transform="matrix(0.87 0 0 1 943.49 595.6)" stroke-width="0.37">n</text><text x="951.85" y="595.6">t</text><text x="960.2" y="595.6">i</text><text x="968.55" y="595.6">l</text></g>
<g font-size="17.2"><text x="717.18" y="611.7">r</text><text x="725.68" y="611.7">e</text><text x="734.18" y="611.7">t</text><text x="742.69" y="611.7">a</text><text x="751.19" y="611.7">i</text><text transform="matrix(0.89 0 0 1 759.69 611.7)" stroke-width="0.36">n</text><text x="768.19" y="611.7">e</text><text x="776.7" y="611.7">r</text><text x="793.7" y="611.7">c</text><text x="802.21" y="611.7">l</text><text x="810.71" y="611.7">i</text><text x="819.21" y="611.7">c</text><text transform="matrix(0.89 0 0 1 827.72 611.7)" stroke-width="0.36">k</text><text x="844.72" y="611.7">i</text><text transform="matrix(0.89 0 0 1 853.22 611.7)" stroke-width="0.36">n</text><text x="861.73" y="611.7">t</text><text transform="matrix(0.89 0 0 1 870.23 611.7)" stroke-width="0.36">o</text><text x="887.24" y="611.7">i</text><text transform="matrix(0.89 0 0 1 895.74 611.7)" stroke-width="0.36">n</text><text x="904.24" y="611.7">s</text><text x="912.74" y="611.7">i</text><text transform="matrix(0.89 0 0 1 921.25 611.7)" stroke-width="0.36">d</text><text x="929.75" y="611.7">e</text><text x="946.76" y="611.7">r</text><text transform="matrix(0.89 0 0 1 955.26 611.7)" stroke-width="0.36">o</text><text x="963.76" y="611.7">s</text><text x="972.26" y="611.7">e</text></g>
<g font-size="17.2"><text x="718.04" y="627.8">a</text><text transform="matrix(0.92 0 0 1 726.79 627.8)" stroke-width="0.35">n</text><text x="735.55" y="627.8">c</text><text transform="matrix(0.92 0 0 1 744.3 627.8)" stroke-width="0.35">h</text><text transform="matrix(0.92 0 0 1 753.06 627.8)" stroke-width="0.35">o</text><text x="761.81" y="627.8">r</text><text transform="matrix(0.92 0 0 1 779.33 627.8)" stroke-width="0.35">p</text><text transform="matrix(0.92 0 0 1 788.08 627.8)" stroke-width="0.35">o</text><text x="796.84" y="627.8">i</text><text transform="matrix(0.92 0 0 1 805.59 627.8)" stroke-width="0.35">n</text><text x="814.35" y="627.8">t</text></g>
</g>
</svg></body></html>
